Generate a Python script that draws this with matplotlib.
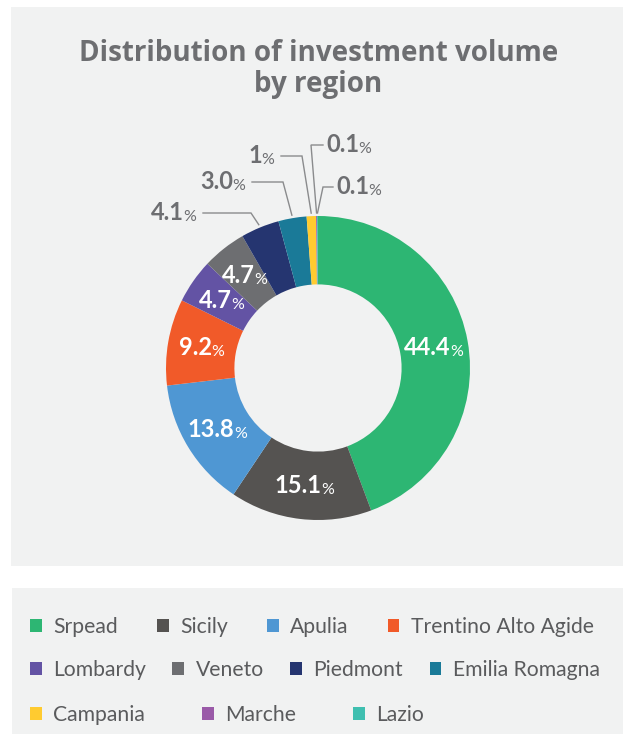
import matplotlib
matplotlib.use("Agg")
import matplotlib.pyplot as plt
from matplotlib.patches import Rectangle
from matplotlib.transforms import offset_copy
import numpy as np

regions = ["Srpead", "Sicily", "Apulia", "Trentino Alto Agide", "Lombardy", "Veneto",
           "Piedmont", "Emilia Romagna", "Campania", "Marche", "Lazio"]
values = [44.4, 15.1, 13.8, 9.2, 4.7, 4.7, 4.1, 3.0, 1, 0.1, 0.1]
value_labels = ["44.4", "15.1", "13.8", "9.2", "4.7", "4.7", "4.1", "3.0", "1", "0.1", "0.1"]
colors = ["#2db673", "#555351", "#4f97d3", "#f15a29", "#6353a4", "#6d6e71",
          "#253570", "#1a7a98", "#ffcb30", "#9a5aa8", "#3fbfb0"]
inside = [True, True, True, True, True, True, False, False, False, False, False]
title = "Distribution of investment volume\nby region"

W, H = 623, 734
fig = plt.figure(figsize=(W / 100, H / 100), dpi=100)
fig.patch.set_facecolor("white")

BG = "#f1f2f2"
GRAY = "#6d6e71"
fig.patches.append(Rectangle((11 / W, 1 - 566 / H), 612 / W, 559 / H, transform=fig.transFigure,
                             facecolor=BG, edgecolor="none", zorder=-10))
fig.patches.append(Rectangle((12 / W, 0), 611 / W, 146 / H, transform=fig.transFigure,
                             facecolor=BG, edgecolor="none", zorder=-10))

fig.text(318.5 / W, 1 - 69 / H, title, ha="center", va="center", fontsize=20,
         fontweight="bold", family="Open Sans", color=GRAY, linespacing=1.1)

# pie axes: center (318, 368) px, radius 152 px
cx, cy, R = 318, 368, 152
L = 1.6
side = 2 * L * R
ax = fig.add_axes([(cx - side / 2) / W, (H - cy - side / 2) / H, side / W, side / H])

wedges, _ = ax.pie(values, colors=colors, startangle=90, counterclock=False,
                   radius=1.0, wedgeprops=dict(width=0.45, linewidth=0))
ax.set_xlim(-L, L)
ax.set_ylim(-L, L)
ax.set_aspect("equal")
ax.axis("off")

NUMFONT = "Lato"
NUMSIZE = 17

def px2d(px, py):
    return ((px - cx) / R, (cy - py) / R)

def mixed_label(x, y, num, color, ha, ofs=0):
    t = ax.text(x, y, num, ha=ha, va="baseline", fontsize=NUMSIZE, fontweight="bold",
                family=NUMFONT, color=color,
                transform=offset_copy(ax.transData, fig=fig, x=ofs, y=0, units="points"))
    ax.annotate("%", xy=(1, 0), xycoords=t, xytext=(-0.5, 0), textcoords="offset points",
                ha="left", va="bottom", fontsize=11.5, family=NUMFONT, color=color)
    return t

# inside labels
for w, lab, ins in zip(wedges, value_labels, inside):
    if not ins:
        continue
    ang = np.deg2rad((w.theta1 + w.theta2) / 2)
    r = 0.775
    x, y = r * np.cos(ang), r * np.sin(ang)
    mixed_label(x, y - 0.05, lab, "white", "center", ofs=-4.5)

# outside labels: (elbow px, end px, text ha)
outside_layout = {
    6: ((251, 213), (203, 213), "right"),
    7: ((283, 182), (252, 182), "right"),
    8: ((302, 156), (281, 156), "right"),
    9: ((311, 145), (323, 145), "left"),
    10: ((323, 187), (333, 187), "left"),
}
for i, (elb, end, ha) in outside_layout.items():
    w = wedges[i]
    ang = np.deg2rad((w.theta1 + w.theta2) / 2)
    p0 = (1.02 * np.cos(ang), 1.02 * np.sin(ang))
    e = px2d(*elb)
    f = px2d(*end)
    ax.plot([p0[0], e[0], f[0]], [p0[1], e[1], f[1]], color="#8a8b8d", lw=1.0,
            solid_joinstyle="miter")
    if ha == "right":
        mixed_label(f[0] - 5 / R, f[1] - 0.045, value_labels[i], GRAY, "right", ofs=-10)
    else:
        mixed_label(f[0] + 3 / R, f[1] - 0.045, value_labels[i], GRAY, "left")

# legend rows
rows = [[0, 1, 2, 3], [4, 5, 6, 7], [8, 9, 10]]
row_y = [627, 670, 715]
row_spacing = [1.85, 1.25, 2.7]
for idx, yy, cs in zip(rows, row_y, row_spacing):
    leg = fig.legend([wedges[i] for i in idx], [regions[i] for i in idx],
                     loc="center left", bbox_to_anchor=(30 / W, 1 - yy / H),
                     ncol=len(idx), frameon=False,
                     prop=dict(family="Lato", size=15.2),
                     handlelength=0.55, handleheight=0.55, handletextpad=0.55,
                     columnspacing=cs, borderpad=0, borderaxespad=0)
    for txt in leg.get_texts():
        txt.set_color("#5a5b5d")

fig.savefig("out.png", dpi=100, facecolor="white")
